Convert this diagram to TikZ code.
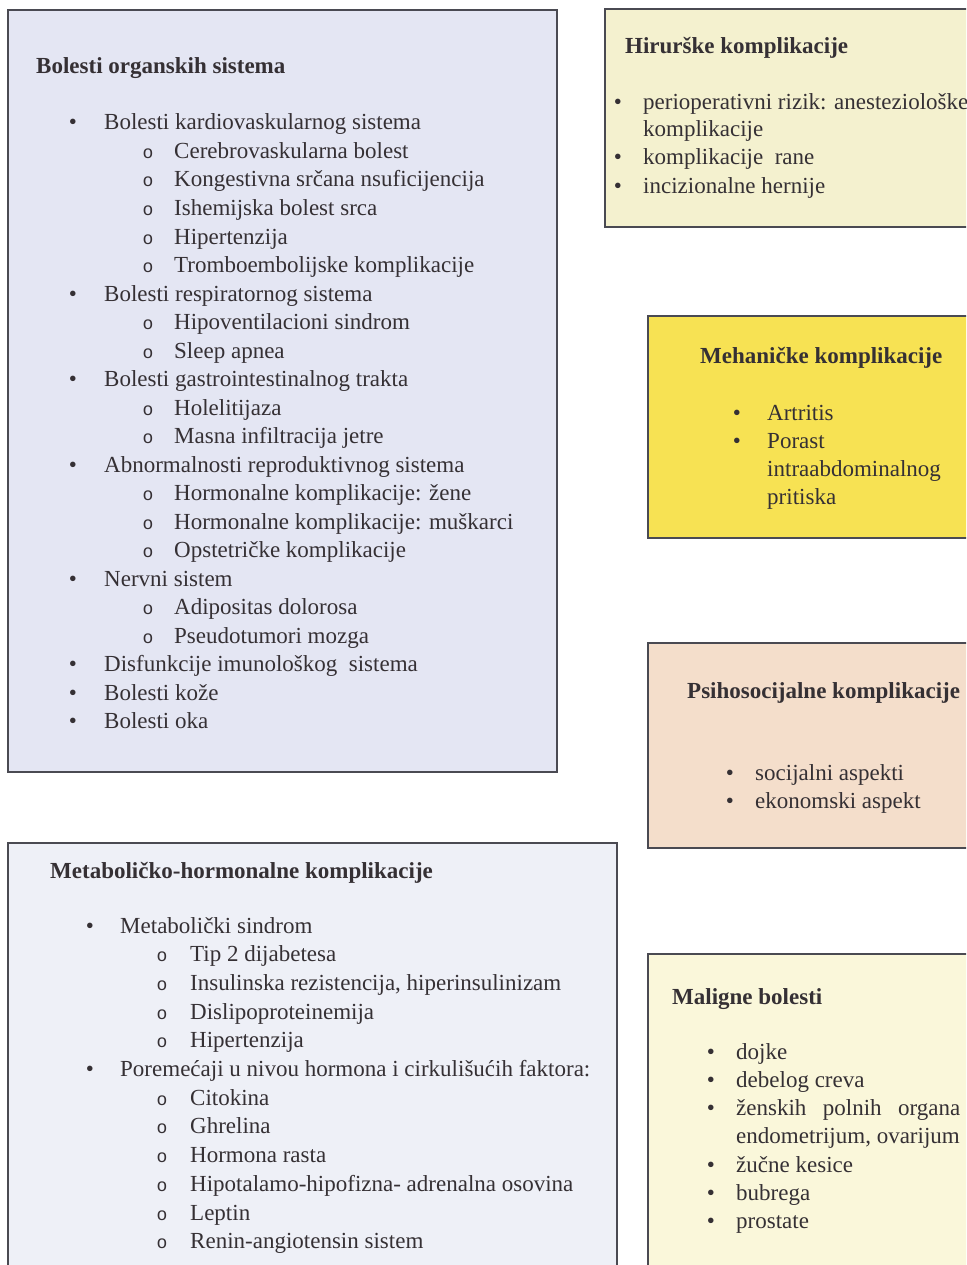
\documentclass[tikz,border=0pt]{standalone}
\usepackage{fontspec}
\setmainfont{Liberation Serif}
\newfontfamily\monofont{Liberation Mono}
\usepackage{xcolor}
\usepackage{tikz}

\definecolor{orgfill}{HTML}{E4E6F3}
\definecolor{metfill}{HTML}{EEF0F7}
\definecolor{hirfill}{HTML}{F4F1CF}
\definecolor{mehfill}{HTML}{F7E253}
\definecolor{psifill}{HTML}{F4DECB}
\definecolor{malfill}{HTML}{FAF7DA}
\definecolor{boxline}{HTML}{4A4A52}
\definecolor{txt}{HTML}{353034}

\tikzset{
  boxframe/.style={draw=boxline, line width=1.4pt},
  title/.style={anchor=base west, inner sep=0pt, text=txt, font=\fontsize{23}{27}\selectfont\bfseries},
  item/.style={anchor=base west, inner sep=0pt, text=txt, font=\fontsize{23}{27}\selectfont},
  dot/.style={anchor=base, inner sep=0pt, text=txt, font=\fontsize{23}{27}\selectfont},
  circ/.style={anchor=base, inner sep=0pt, text=txt, font=\fontsize{18}{20}\selectfont\monofont}
}

\begin{document}
\begin{tikzpicture}[x=1pt, y=-1pt]
                \useasboundingbox (0,0) rectangle (966,1265);
                \clip (0,0) rectangle (966,1265);
                \fill[white] (0,0) rectangle (966,1265);

                % box: organ systems
                \draw[boxframe, fill=orgfill] (8,10) rectangle (557,772);
                \node[title] (org-title) at (36,74) {Bolesti organskih sistema};
                \foreach \i/\lvl/\txt in {
                    0/1/Bolesti kardiovaskularnog sistema,
                    1/2/Cerebrovaskularna bolest,
                    2/2/Kongestivna srčana nsuficijencija,
                    3/2/Ishemijska bolest srca,
                    4/2/Hipertenzija,
                    5/2/Tromboembolijske komplikacije,
                    6/1/Bolesti respiratornog sistema,
                    7/2/Hipoventilacioni sindrom,
                    8/2/Sleep apnea,
                    9/1/Bolesti gastrointestinalnog trakta,
                    10/2/Holelitijaza,
                    11/2/Masna infiltracija jetre,
                    12/1/Abnormalnosti reproduktivnog sistema,
                    13/2/{Hormonalne komplikacije: žene},
                    14/2/{Hormonalne komplikacije: muškarci},
                    15/2/Opstetričke komplikacije,
                    16/1/Nervni sistem,
                    17/2/Adipositas dolorosa,
                    18/2/Pseudotumori mozga,
                    19/1/Disfunkcije imunološkog\ \ sistema,
                    20/1/Bolesti kože,
                    21/1/Bolesti oka} {
                    \pgfmathsetmacro{\yy}{130+28.5*\i}
                    \ifnum\lvl=1
                        \node[dot] (org-mark-\i) at (73,\yy) {•};
                        \node[item] (org-\i) at (104,\yy) {\txt};
                    \else
                        \node[circ] (org-mark-\i) at (148,\yy) {o};
                        \node[item] (org-\i) at (174,\yy) {\txt};
                    \fi
                }

                % box: metabolic-hormonal
                \draw[boxframe, fill=metfill] (8,843) rectangle (617,1290);
                \node[title] (met-title) at (50,878) {Metaboličko-hormonalne komplikacije};
                \foreach \i/\lvl/\txt in {
                    0/1/Metabolički sindrom,
                    1/2/Tip 2 dijabetesa,
                    2/2/{Insulinska rezistencija, hiperinsulinizam},
                    3/2/Dislipoproteinemija,
                    4/2/Hipertenzija,
                    5/1/Poremećaji u nivou hormona i cirkulišućih faktora:,
                    6/2/Citokina,
                    7/2/Ghrelina,
                    8/2/Hormona rasta,
                    9/2/Hipotalamo-hipofizna- adrenalna osovina,
                    10/2/Leptin,
                    11/2/Renin-angiotensin sistem} {
                    \pgfmathsetmacro{\yy}{933+28.7*\i}
                    \ifnum\lvl=1
                        \node[dot] (met-mark-\i) at (90,\yy) {•};
                        \node[item] (met-\i) at (120,\yy) {\txt};
                    \else
                        \node[circ] (met-mark-\i) at (162,\yy) {o};
                        \node[item] (met-\i) at (190,\yy) {\txt};
                    \fi
                }

                % box: surgical
                \draw[boxframe, fill=hirfill] (605,9) rectangle (990,227);
                \node[title] (hir-title) at (625,54) {Hirurške komplikacije};
                \node[dot] (hir-mark-1) at (618,110) {•};
                \node[item] (hir-1) at (643,110) {perioperativni rizik: anesteziološke};
                \node[item] (hir-2) at (643,137) {komplikacije};
                \node[dot] (hir-mark-3) at (618,165) {•};
                \node[item] (hir-3) at (643,165) {komplikacije\ \ rane};
                \node[dot] (hir-mark-4) at (618,194) {•};
                \node[item] (hir-4) at (643,194) {incizionalne hernije};

                % box: mechanical
                \draw[boxframe, fill=mehfill] (648,316) rectangle (990,538);
                \node[title] (meh-title) at (700,363) {Mehaničke komplikacije};
                \node[dot] (meh-mark-1) at (737,420) {•};
                \node[item] (meh-1) at (767,420) {Artritis};
                \node[dot] (meh-mark-2) at (737,448) {•};
                \node[item] (meh-2) at (767,448) {Porast};
                \node[item] (meh-3) at (767,476) {intraabdominalnog};
                \node[item] (meh-4) at (767,504) {pritiska};

                % box: psychosocial
                \draw[boxframe, fill=psifill] (648,643) rectangle (990,848);
                \node[title] (psi-title) at (687,698) {Psihosocijalne komplikacije};
                \node[dot] (psi-mark-1) at (730,780) {•};
                \node[item] (psi-1) at (755,780) {socijalni aspekti};
                \node[dot] (psi-mark-2) at (730,808) {•};
                \node[item] (psi-2) at (755,808) {ekonomski aspekt};

                % box: malignant
                \draw[boxframe, fill=malfill] (648,954) rectangle (990,1290);
                \node[title] (mal-title) at (672,1004) {Maligne bolesti};
                \foreach \i/\txt in {
                    0/dojke,
                    1/debelog creva,
                    2/\makebox[224pt][s]{ženskih polnih organa},
                    3/{endometrijum, ovarijum},
                    4/žučne kesice,
                    5/bubrega,
                    6/prostate} {
                    \pgfmathsetmacro{\yy}{1059+28.3*\i}
                    \ifnum\i=3
                        \node[item] (mal-\i) at (736,\yy) {\txt};
                    \else
                        \node[dot] (mal-mark-\i) at (711,\yy) {•};
                        \node[item] (mal-\i) at (736,\yy) {\txt};
                    \fi
                }
            \end{tikzpicture}
\end{document}
